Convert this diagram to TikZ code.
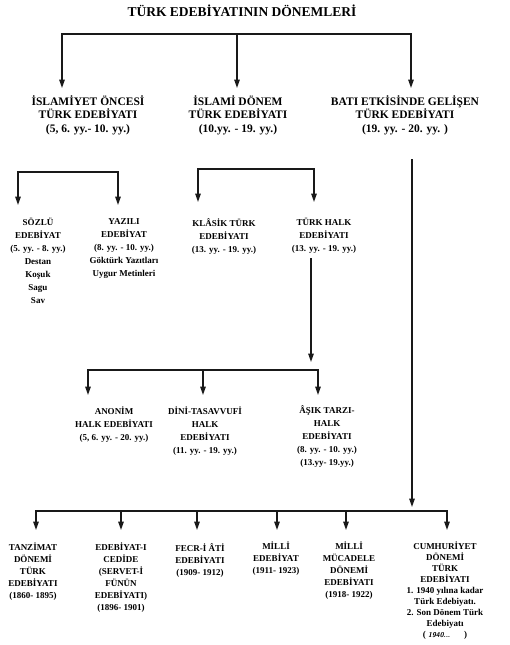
\documentclass[tikz,border=0pt]{standalone}
\usepackage{fontspec}
\setmainfont{Liberation Serif}
\usetikzlibrary{arrows.meta}
\begin{document}
\begin{tikzpicture}[x=1pt,y=-1pt,
  line/.style={line width=1.4pt, black!90},
  arr/.style={line, -{Triangle[length=8.5pt,width=5.5pt]}},
  ttl/.style={font=\fontsize{13.5}{16}\selectfont\bfseries, inner sep=0},
  head/.style={font=\fontsize{11.5}{13.5}\selectfont\bfseries, align=center, inner sep=0, anchor=north},
  lbl/.style={font=\fontsize{9}{13}\selectfont\bfseries, align=center, inner sep=0, anchor=north},
  lblb/.style={font=\fontsize{9}{12}\selectfont\bfseries, align=center, inner sep=0, anchor=north},
  lblc/.style={font=\fontsize{9}{11}\selectfont\bfseries, align=center, inner sep=0, anchor=north},
]
\useasboundingbox[fill=white] (0,0) rectangle (510,645);

% title and headings
\node[ttl] (t) at (242,11) {TÜRK EDEBİYATININ DÖNEMLERİ};
\node[head] (h1) at (88,95) {İSLAMİYET ÖNCESİ\\TÜRK EDEBİYATI\\(5, 6. yy.- 10. yy.)};
\node[head] (h2) at (238,95) {İSLAMİ DÖNEM\\TÜRK EDEBİYATI\\(10.yy. - 19. yy.)};
\node[head] (h3) at (405,95) {BATI ETKİSİNDE GELİŞEN\\TÜRK EDEBİYATI\\(19. yy. - 20. yy. )};

% second level
\node[lbl] (s1) at (38,218) {SÖZLÜ\\EDEBİYAT\\(5. yy. - 8. yy.)\\Destan\\Koşuk\\Sagu\\Sav};
\node[lbl] (s2) at (124,218) {YAZILI\\EDEBİYAT\\(8. yy. - 10. yy.)\\Göktürk Yazıtları\\Uygur Metinleri};
\node[lbl] (s3) at (224,218) {KLÂSİK TÜRK\\EDEBİYATI\\(13. yy. - 19. yy.)};
\node[lbl] (s4) at (324,218) {TÜRK HALK\\EDEBİYATI\\(13. yy. - 19. yy.)};

% third level
\node[lbl] (m1) at (114,407) {ANONİM\\HALK EDEBİYATI\\(5, 6. yy. - 20. yy.)};
\node[lbl] (m2) at (205,407) {DİNİ-TASAVVUFİ\\HALK\\EDEBİYATI\\(11. yy. - 19. yy.)};
\node[lbl] (m3) at (327,405) {ÂŞIK TARZI-\\HALK\\EDEBİYATI\\(8. yy. - 10. yy.)\\(13.yy- 19.yy.)};

% bottom level
\node[lblb] (b1) at (33,543) {TANZİMAT\\DÖNEMİ\\TÜRK\\EDEBİYATI\\(1860- 1895)};
\node[lblb] (b2) at (121,543) {EDEBİYAT-I\\CEDİDE\\(SERVET-İ\\FÜNÜN\\EDEBİYATI)\\(1896- 1901)};
\node[lblb] (b3) at (200,543) {FECR-İ ÂTİ\\EDEBİYATI\\(1909- 1912)};
\node[lblb] (b4) at (276,542) {MİLLİ\\EDEBİYAT\\(1911- 1923)};
\node[lblb] (b5) at (349,542) {MİLLİ\\MÜCADELE\\DÖNEMİ\\EDEBİYATI\\(1918- 1922)};
\node[lblc] (b6) at (445,542) {CUMHURİYET\\DÖNEMİ\\TÜRK\\EDEBİYATI\\1. 1940 yılına kadar\\Türk Edebiyatı.\\2. Son Dönem Türk\\Edebiyatı\\( {\sffamily\itshape\fontsize{7}{11}\selectfont 1940...}\hspace{14pt})};

% coordinates for connectors
\coordinate (tM) at (237,34);
\coordinate (h1in) at (62,88);
\coordinate (h2in) at (237,88);
\coordinate (h3in) at (411,88);

\coordinate (bar1) at (68,172);
\coordinate (s1in) at (18,205);
\coordinate (s2in) at (118,205);

\coordinate (bar2) at (256,169);
\coordinate (s3in) at (198,202);
\coordinate (s4in) at (314,202);

\coordinate (s4out) at (311,258);
\coordinate (m0) at (311,362);
\coordinate (bar3) at (203,370);
\coordinate (m1in) at (88,395);
\coordinate (m2in) at (203,395);
\coordinate (m3in) at (318,395);

\coordinate (h3out) at (412,159);
\coordinate (b0) at (412,507);
\coordinate (bar4) at (241,511);
\coordinate (b1in) at (36,530);
\coordinate (b2in) at (121,530);
\coordinate (b3in) at (197,530);
\coordinate (b4in) at (277,530);
\coordinate (b5in) at (346,530);
\coordinate (b6in) at (447,530);

% connectors
\draw[arr] (tM) -| (h1in);
\draw[arr] (tM) -- (h2in);
\draw[arr] (tM) -| (h3in);

\draw[arr] (bar1) -| (s1in);
\draw[arr] (bar1) -| (s2in);

\draw[arr] (bar2) -| (s3in);
\draw[arr] (bar2) -| (s4in);

\draw[arr] (s4out) -- (m0);
\draw[arr] (bar3) -| (m1in);
\draw[arr] (bar3) -- (m2in);
\draw[arr] (bar3) -| (m3in);

\draw[arr] (h3out) -- (b0);
\draw[arr] (bar4) -| (b1in);
\draw[arr] (bar4) -| (b2in);
\draw[arr] (bar4) -| (b3in);
\draw[arr] (bar4) -| (b4in);
\draw[arr] (bar4) -| (b5in);
\draw[arr] (bar4) -| (b6in);
\end{tikzpicture}
\end{document}
